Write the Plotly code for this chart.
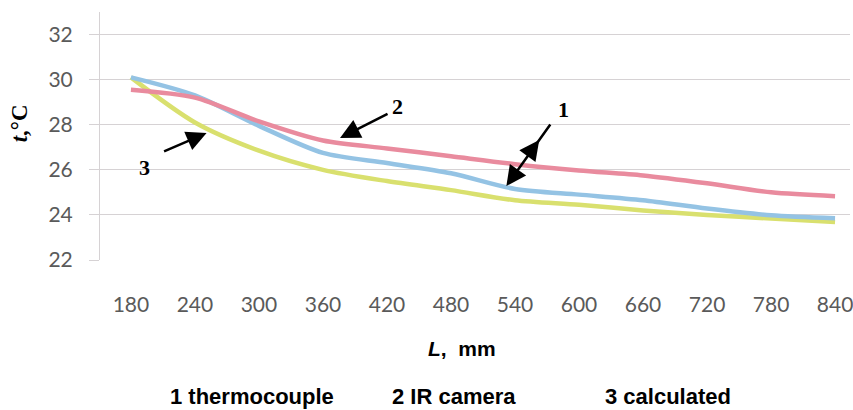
import plotly.graph_objects as go

L_mm = [180, 240, 300, 360, 420, 480, 540, 600, 660, 720, 780, 840]
thermocouple = [30.1, 29.3, 27.95, 26.75, 26.3, 25.85, 25.15, 24.9, 24.65, 24.28, 23.98, 23.85]
ir_camera = [29.55, 29.2, 28.15, 27.3, 26.95, 26.6, 26.25, 25.97, 25.75, 25.4, 25.0, 24.83]
calculated = [30.1, 28.1, 26.85, 26.0, 25.5, 25.1, 24.65, 24.45, 24.2, 24.0, 23.84, 23.69]
y_ticks = [22, 24, 26, 28, 30, 32]
legend_labels = ["1 thermocouple", "2 IR camera", "3 calculated"]

W, H = 853, 410
ML, MR, MT, MB = 100, 0, 12, 150
XR = [151, 854]
YR = [22, 33]

fig = go.Figure()
for vals, col in [(calculated, "#d9e06e"), (thermocouple, "#94c3e4"), (ir_camera, "#e98b9e")]:
    fig.add_trace(go.Scatter(x=L_mm, y=vals, mode="lines",
                             line=dict(color=col, width=4.5, shape="spline", smoothing=0.8),
                             showlegend=False, hoverinfo="skip"))

grid = "#d6d2d4"
fig.update_layout(
    width=W, height=H,
    margin=dict(l=ML, r=MR, t=MT, b=MB),
    plot_bgcolor="white", paper_bgcolor="white",
    xaxis=dict(range=XR, tickvals=L_mm, ticktext=[str(v) for v in L_mm],
               showgrid=False, zeroline=False, showline=False, ticks="",
               tickfont=dict(family="Lato", size=21, color="#5a5a5a"),
               ticklabelstandoff=30, ticklabeloverflow="allow"),
    yaxis=dict(range=YR, tickvals=y_ticks, showgrid=True, gridcolor=grid, gridwidth=1,
               zeroline=False, showline=True, linecolor=grid, linewidth=1,
               ticks="outside", ticklen=10, tickcolor=grid,
               tickfont=dict(family="Lato", size=21, color="#5a5a5a"),
               ticklabelstandoff=12),
)

ann = []
ann.append(dict(xref="paper", yref="paper", x=-0.107, y=0.55, xanchor="center", yanchor="middle",
                text="<b><i>t</i>,°C</b>", textangle=-90, showarrow=False,
                font=dict(family="Liberation Serif", size=23, color="black")))
ann.append(dict(xref="x", yref="paper", x=(L_mm[0] + L_mm[-1]) / 2 - 20, y=0, yshift=-88,
                xanchor="center", yanchor="middle",
                text="<b><i>L</i>,\u00a0\u00a0mm</b>", showarrow=False,
                font=dict(family="Liberation Sans", size=21, color="black")))
for lab, cx in zip(legend_labels, [253, 455, 670]):
    ann.append(dict(xref="paper", yref="paper", x=(cx - ML) / (W - ML - MR), y=0, yshift=-136,
                    xanchor="center", yanchor="middle", text="<b>" + lab + "</b>", showarrow=False,
                    font=dict(family="Liberation Sans", size=22, color="black")))

def yd(py):
    return YR[1] - (py - MT) / (H - MT - MB) * (YR[1] - YR[0])

def xd(pxv):
    return XR[0] + (pxv - ML) / (W - ML - MR) * (XR[1] - XR[0])

arrows = [
    ("2", (399, 106), (341, 138), (390, 113)),
    ("1", (565, 109), (508, 186), (553, 123)),
    ("3", (145, 167), (207, 133), (163, 152)),
]
for lab, (lx, ly), (hx, hy), (tx, ty) in arrows:
    ann.append(dict(x=xd(lx), y=yd(ly), xref="x", yref="y", text="<b>" + lab + "</b>", showarrow=False,
                    font=dict(family="Liberation Serif", size=22, color="black")))
    ann.append(dict(x=xd(hx), y=yd(hy), xref="x", yref="y", ax=tx - hx, ay=ty - hy,
                    axref="pixel", ayref="pixel", text="", showarrow=True,
                    arrowhead=2, arrowsize=1.6, arrowwidth=2.5, arrowcolor="black"))
ann.append(dict(x=xd(541), y=yd(140), xref="x", yref="y", ax=-11, ay=15, text="", showarrow=True,
                arrowhead=2, arrowsize=1.6, arrowwidth=2.5, arrowcolor="black"))

fig.update_layout(annotations=ann)
fig.write_html("out.html", config={"displayModeBar": False},
               post_script="document.body.style.margin='0';")
